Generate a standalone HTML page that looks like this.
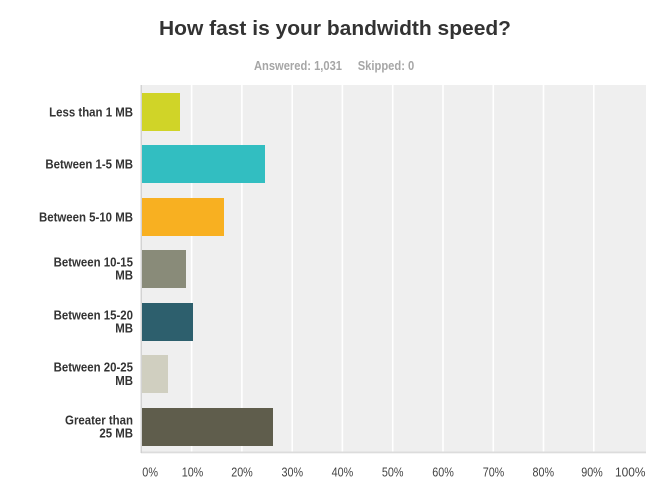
<!DOCTYPE html>
<html>
<head>
<meta charset="utf-8">
<style>
  html, body { margin: 0; padding: 0; background: #ffffff; }
  body { width: 658px; height: 497px; overflow: hidden; }
  svg { display: block; }
  text { font-family: "Liberation Sans", Arial, sans-serif; }
</style>
</head>
<body>
<svg width="658" height="497" viewBox="0 0 658 497" xmlns="http://www.w3.org/2000/svg">
  <!-- Title -->
  <text x="159" y="35" font-size="20" font-weight="bold" fill="#333333" textLength="352" lengthAdjust="spacingAndGlyphs">How fast is your bandwidth speed?</text>
  <!-- Subtitle -->
  <text x="254" y="70" font-size="13" font-weight="bold" fill="#a6a6a6" textLength="88" lengthAdjust="spacingAndGlyphs">Answered: 1,031</text>
  <text x="357.7" y="70" font-size="13" font-weight="bold" fill="#a6a6a6" textLength="56.6" lengthAdjust="spacingAndGlyphs">Skipped: 0</text>

  <!-- Plot background -->
  <rect x="141" y="85" width="505" height="367" fill="#efefef"/>
  <!-- Gridlines -->
  <g fill="#ffffff">
    <rect x="190.8" y="85" width="1.6" height="367"/>
    <rect x="241.1" y="85" width="1.6" height="367"/>
    <rect x="291.4" y="85" width="1.6" height="367"/>
    <rect x="341.6" y="85" width="1.6" height="367"/>
    <rect x="391.9" y="85" width="1.6" height="367"/>
    <rect x="442.2" y="85" width="1.6" height="367"/>
    <rect x="492.5" y="85" width="1.6" height="367"/>
    <rect x="542.7" y="85" width="1.6" height="367"/>
    <rect x="593.0" y="85" width="1.6" height="367"/>
  </g>
  <!-- Axes -->
  <rect x="141" y="451.5" width="505" height="1.8" fill="#dcdcdc"/>
  <rect x="140.6" y="85" width="1.2" height="368" fill="#cccccc"/>

  <!-- Bars -->
  <rect x="142" y="93" width="38" height="38" fill="#d0d428"/>
  <rect x="142" y="145" width="123" height="38" fill="#32bec1"/>
  <rect x="142" y="198" width="82" height="38" fill="#f8b021"/>
  <rect x="142" y="250" width="44" height="38" fill="#898b79"/>
  <rect x="142" y="303" width="51" height="38" fill="#2d5f6d"/>
  <rect x="142" y="355" width="26" height="38" fill="#d0cfc0"/>
  <rect x="142" y="408" width="131" height="38" fill="#5f5d4c"/>

  <!-- Category labels -->
  <g transform="translate(133,0) scale(0.915,1)" font-size="12.5" font-weight="bold" fill="#333333" text-anchor="end">
    <text x="0" y="116.3">Less than 1 MB</text>
    <text x="0" y="168.3">Between 1-5 MB</text>
    <text x="0" y="221.3">Between 5-10 MB</text>
    <text x="0" y="266.5">Between 10-15</text>
    <text x="0" y="279.7">MB</text>
    <text x="0" y="319.4">Between 15-20</text>
    <text x="0" y="332.7">MB</text>
    <text x="0" y="371.6">Between 20-25</text>
    <text x="0" y="384.9">MB</text>
    <text x="0" y="424.4">Greater than</text>
    <text x="0" y="437.7">25 MB</text>
  </g>

  <!-- Tick labels -->
  <g font-size="12.5" fill="#444444">
    <text x="142.3" y="476.5" textLength="15.7" lengthAdjust="spacingAndGlyphs">0%</text>
    <text x="181.7" y="476.5" textLength="21.6" lengthAdjust="spacingAndGlyphs">10%</text>
    <text x="231.2" y="476.5" textLength="21.6" lengthAdjust="spacingAndGlyphs">20%</text>
    <text x="281.5" y="476.5" textLength="21.6" lengthAdjust="spacingAndGlyphs">30%</text>
    <text x="331.6" y="476.5" textLength="21.6" lengthAdjust="spacingAndGlyphs">40%</text>
    <text x="381.9" y="476.5" textLength="21.6" lengthAdjust="spacingAndGlyphs">50%</text>
    <text x="432.3" y="476.5" textLength="21.6" lengthAdjust="spacingAndGlyphs">60%</text>
    <text x="482.7" y="476.5" textLength="21.6" lengthAdjust="spacingAndGlyphs">70%</text>
    <text x="532.5" y="476.5" textLength="21.6" lengthAdjust="spacingAndGlyphs">80%</text>
    <text x="581.2" y="476.5" textLength="21.6" lengthAdjust="spacingAndGlyphs">90%</text>
    <text x="615" y="476.5" textLength="30.5" lengthAdjust="spacingAndGlyphs">100%</text>
  </g>
</svg>
</body>
</html>
